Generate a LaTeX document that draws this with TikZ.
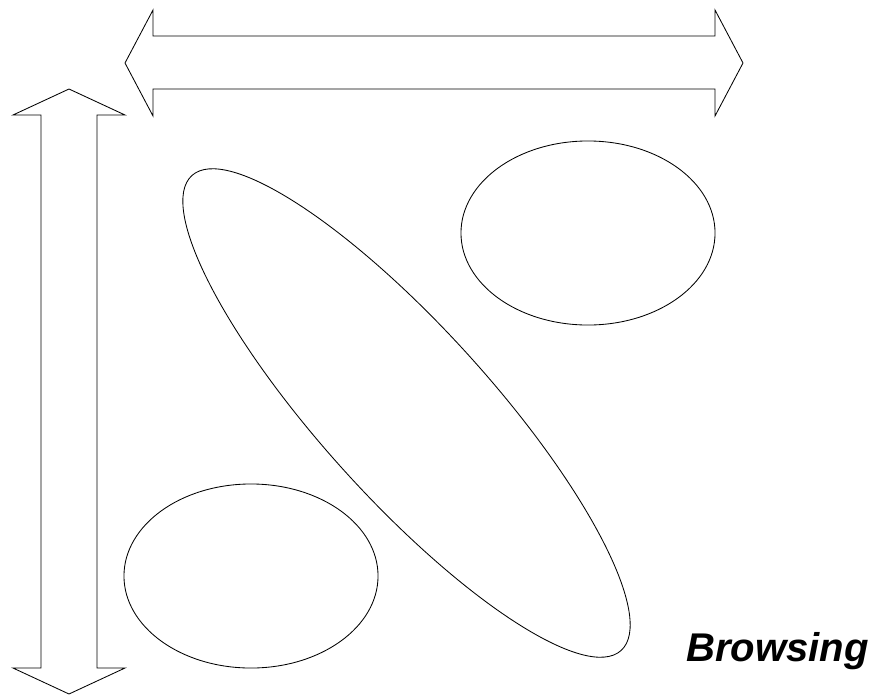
\documentclass[tikz,border=0pt]{standalone}
\usepackage{fontspec}
\setsansfont{Liberation Sans}
\usetikzlibrary{positioning, shapes.geometric}
\tikzset{
  % Region blobs
  blob/.style={
    draw, ellipse, line width=0.6pt,
    inner sep=0pt, outer sep=0pt
  },
  blobRound/.style={
    blob, minimum width=6.35cm, minimum height=4.6cm
  },
  blobLong/.style={
    blob, minimum width=16cm, minimum height=4.24cm
  },
  % Block arrows
  blockarrow/.style={
    draw, line width=0.6pt, line join=miter
  },
  caption/.style={
    font=\sffamily\bfseries\itshape\fontsize{28.5}{33}\selectfont,
    inner sep=0pt, anchor=base west
  },
}

\begin{document}
\begin{tikzpicture}[x=0.025cm, y=-0.025cm]

  \useasboundingbox (0,0) rectangle (872,696);

  %% ── Double arrow, horizontal ──
  \draw[blockarrow] (125,63) -- (153,10) -- (153,36) -- (715,36) -- (715,10)
    -- (743,63) -- (715,116) -- (715,89) -- (153,89) -- (153,116) -- cycle;

  %% ── Double arrow, vertical ──
  \draw[blockarrow] (69,89) -- (125,115) -- (97,115) -- (97,668) -- (125,668)
    -- (69,694) -- (13,668) -- (41,668) -- (41,115) -- (13,115) -- cycle;

  %% ── Blobs ──
  \node[blobRound] (blobTR) at (588,233) {};
  \node[blobRound] (blobBL) at (251,576) {};
  \node[blobLong, rotate=-47.9] (blobDiag) at (406.5,413) {};

  %% ── Caption ──
  \node[caption] (browse) at (686,661) {Browsing};

\end{tikzpicture}
\end{document}
